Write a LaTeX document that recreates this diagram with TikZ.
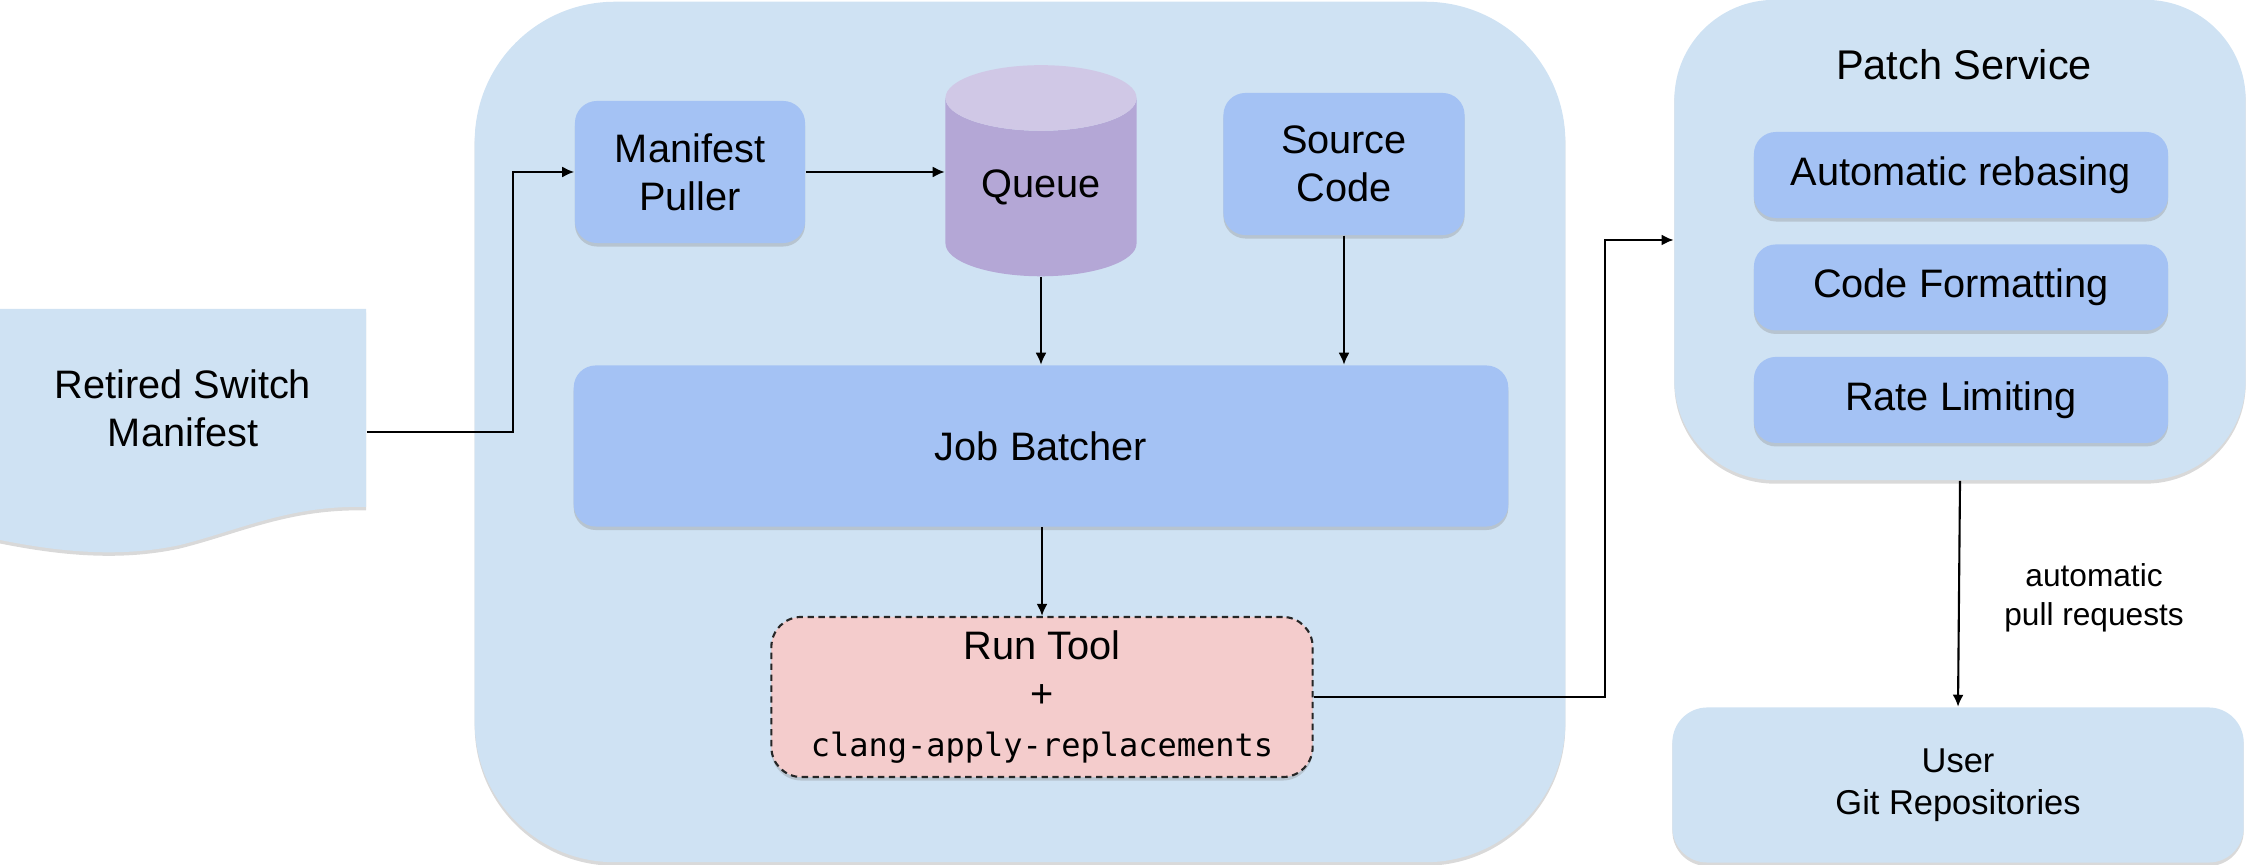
\documentclass[tikz,border=0pt]{standalone}
\usepackage{fontspec}
\setmainfont{Liberation Sans}
\setmonofont{DejaVu Sans Mono}
\usetikzlibrary{positioning, shadows, shapes.geometric, arrows.meta}
\definecolor{paleblue}{HTML}{CFE2F3}
\definecolor{boxblue}{HTML}{A4C2F4}
\definecolor{queuepurple}{HTML}{B4A7D6}
\definecolor{queuetop}{HTML}{D0C8E6}
\definecolor{toolred}{HTML}{F4CCCC}

\begin{document}
\begin{tikzpicture}[
            x=0.01cm, y=-0.01cm,
            shade/.style={drop shadow={shadow xshift=0pt, shadow yshift=-0.035cm, opacity=0.3}},
            region/.style={fill=paleblue, shade, inner sep=0pt},
            box/.style={fill=boxblue, rounded corners=0.22cm, shade, align=center, inner sep=0pt, font=\fontsize{11.3}{13.7}\selectfont},
            toolbox/.style={fill=toolred, draw=black!85, line width=0.6pt, dash pattern=on 1.8pt off 1.3pt, rounded corners=0.3cm, shade, align=center, inner sep=0pt, font=\fontsize{11.3}{13.7}\selectfont},
            plain/.style={align=center, inner sep=0pt, font=\fontsize{11.3}{13.7}\selectfont},
            arrow/.style={-{Latex[length=1.2mm, width=1.1mm]}, line width=0.6pt, black}
        ]
            \useasboundingbox (0,0) rectangle (2252,865);

            % containers
            \node[region, rounded corners=1.4cm, minimum width=10.90cm, minimum height=8.60cm] (pipeline) at (1020,432) {};
            \node[region, rounded corners=1.0cm, minimum width=5.71cm, minimum height=4.80cm] (patch) at (1960,240) {};
            \node[region, rounded corners=0.35cm, minimum width=5.71cm, minimum height=1.55cm, align=center, font=\fontsize{9.8}{11.9}\selectfont] (user) at (1958,785) {User\\Git Repositories};

            % input document
            \fill[paleblue, shade] (0,309) -- (366,309) -- (366,507)
                .. controls (290,505) and (240,530) .. (180,545)
                .. controls (120,558) and (60,552) .. (0,540) -- cycle;
            \node[plain, minimum width=3.66cm, minimum height=1.98cm] (manifest) at (183,408) {Retired Switch\\Manifest};

            % pipeline
            \node[box, minimum width=2.30cm, minimum height=1.42cm] (puller) at (690,172) {Manifest\\Puller};
            \node[cylinder, shape border rotate=90, aspect=0.55, cylinder uses custom fill, cylinder body fill=queuepurple, cylinder end fill=queuetop, minimum width=1.91cm, minimum height=2.11cm, inner sep=0pt, anchor=south, font=\fontsize{11.3}{13.7}\selectfont] (queue) at (1041,277) {Queue};
            \node[box, minimum width=2.41cm, minimum height=1.42cm] (source) at (1344,164) {Source\\Code};
            \node[box, minimum width=9.34cm, minimum height=1.61cm] (batcher) at (1041,446) {Job Batcher};
            \node[toolbox, minimum width=5.41cm, minimum height=1.60cm] (runtool) at (1042,697) {Run Tool\\+\\{\ttfamily\fontsize{9.1}{10.5}\selectfont clang-apply-replacements}};

            % patch service
            \node[plain, font=\fontsize{11.8}{14}\selectfont] (patchtitle) at (1964,65) {Patch Service};
            \node[box, minimum width=4.14cm, minimum height=0.86cm] (rebase) at (1961,175) {Automatic rebasing};
            \node[box, minimum width=4.14cm, minimum height=0.86cm, below=0.25cm of rebase] (format) {Code Formatting};
            \node[box, minimum width=4.14cm, minimum height=0.86cm, below=0.25cm of format] (ratelimit) {Rate Limiting};

            \node[align=center, inner sep=0pt, font=\fontsize{9}{11.1}\selectfont] (prlabel) at (2094,598) {automatic\\pull requests};

            \draw[arrow] ([yshift=-0.24cm]manifest.east) -- ++(146,0) |- (puller.west);
            \draw[arrow] (puller.east) -- (queue.west |- puller.east);
            \draw[arrow] (queue.south) -- (queue.south |- batcher.north);
            \draw[arrow] (source.south) -- (source.south |- batcher.north);
            \draw[arrow] (batcher.south -| runtool.north) -- (runtool.north);
            \draw[arrow] (runtool.east) -- ++(291,0) |- (patch.west);
            \draw[arrow] (patch.south) -- (user.north);
        \end{tikzpicture}
\end{document}
